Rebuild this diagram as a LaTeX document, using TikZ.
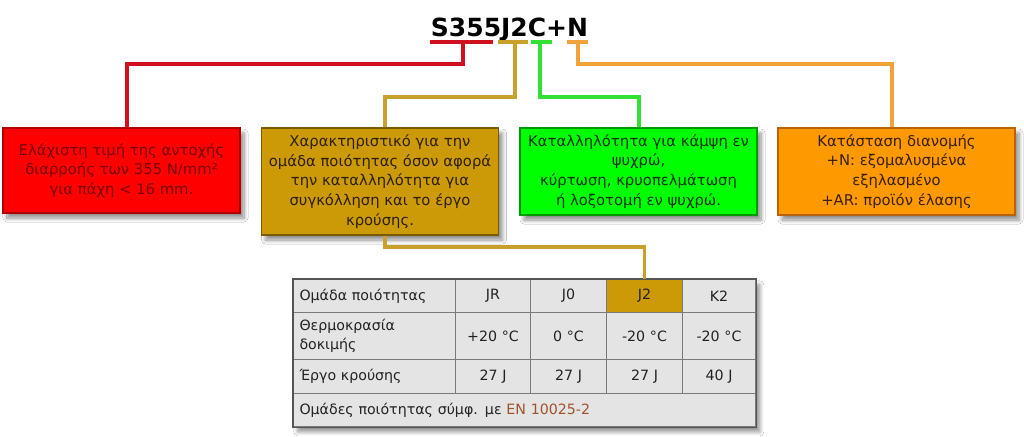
\documentclass[tikz,border=0pt]{standalone}
\usepackage{fontspec}
\setmainfont{DejaVu Sans}
\usetikzlibrary{shadows.blur,calc}
\definecolor{cRed}{HTML}{FF0000}
\definecolor{cRedB}{HTML}{B00000}
\definecolor{cRedT}{HTML}{7A0000}
\definecolor{cRedL}{HTML}{D0101E}
\definecolor{cGold}{HTML}{CC9A06}
\definecolor{cGoldB}{HTML}{7A5A00}
\definecolor{cGoldT}{HTML}{2E2000}
\definecolor{cGoldL}{HTML}{C9A02A}
\definecolor{cGreen}{HTML}{00FF00}
\definecolor{cGreenB}{HTML}{009900}
\definecolor{cGreenT}{HTML}{003300}
\definecolor{cGreenL}{HTML}{33E033}
\definecolor{cOrange}{HTML}{FF9900}
\definecolor{cOrangeB}{HTML}{B86400}
\definecolor{cOrangeT}{HTML}{3A2000}
\definecolor{cOrangeL}{HTML}{F2A23A}
\definecolor{cCell}{HTML}{E4E4E4}
\definecolor{cGrid}{HTML}{7A7A7A}
\definecolor{cTxt}{HTML}{222222}
\definecolor{cBrown}{HTML}{A0522D}
\tikzset{
  infobox/.style={rectangle, draw, line width=1.3pt, inner sep=0pt, align=center,
    minimum width=237pt, font=\fontsize{14.8}{19.8}\selectfont,
    blur shadow={shadow xshift=4pt, shadow yshift=-5pt, shadow blur steps=8,
      shadow blur radius=4pt, shadow opacity=45}},
  link/.style={line width=3.2pt},
  cellL/.style={rectangle, draw=cGrid, line width=1pt, fill=cCell, inner ysep=0pt,
    inner xsep=6pt, text=cTxt, align=left, anchor=north west,
    font=\fontsize{14.2}{19}\selectfont},
  cellC/.style={cellL, align=center},
  tframe/.style={rectangle, draw=cGrid!70!black, line width=1.5pt, fill=cCell, inner sep=0pt,
    anchor=north west,
    blur shadow={shadow xshift=4pt, shadow yshift=-5pt, shadow blur steps=8,
      shadow blur radius=4pt, shadow opacity=45}}
}
\begin{document}
\begin{tikzpicture}[x=1pt,y=-1pt]
\useasboundingbox[fill=white] (0,0) rectangle (1024,436);

% title
\node[font=\fontsize{25}{26}\selectfont\bfseries, inner sep=0pt, anchor=base] (title) at (509.5,36.5) {S355J2C+N};

% boxes
\node[infobox, fill=cRed, draw=cRedB, text=cRedT, minimum height=85pt] (redbox) at (121.5,170.5)
  {Ελάχιστη τιμή της αντοχής\\διαρροής των 355 N/mm²\\για πάχη < 16 mm.};
\node[infobox, fill=cGold, draw=cGoldB, text=cGoldT, minimum height=107pt] (goldbox) at (380,181.5)
  {Χαρακτηριστικό για την\\ομάδα ποιότητας όσον αφορά\\την καταλληλότητα για\\συγκόλληση και το έργο\\κρούσης.};
\node[infobox, fill=cGreen, draw=cGreenB, text=cGreenT, minimum height=87pt] (greenbox) at (638.5,171.5)
  {Καταλληλότητα για κάμψη εν\\ψυχρώ,\\κύρτωση, κρυοπελμάτωση\\ή λοξοτομή εν ψυχρώ.};
\node[infobox, fill=cOrange, draw=cOrangeB, text=cOrangeT, minimum height=87pt] (orangebox) at (896.5,171.5)
  {Κατάσταση διανομής\\+N: εξομαλυσμένα\\εξηλασμένο\\+AR: προϊόν έλασης};

% table
\node[tframe, minimum width=462pt, minimum height=147pt] (tbl) at (293,279) {};
\node[cellL, text width=150pt, minimum height=33pt] (t11) at (293,279) {Ομάδα ποιότητας};
\node[cellC, text width=63pt, minimum height=33pt] (t12) at (455,279) {JR};
\node[cellC, text width=64pt, minimum height=33pt] (t13) at (530,279) {J0};
\node[cellC, text width=64pt, minimum height=33pt, fill=cGold] (t14) at (606,279) {J2};
\node[cellC, text width=61pt, minimum height=33pt] (t15) at (682,279) {K2};
\node[cellL, text width=150pt, minimum height=47pt] (t21) at (293,312) {Θερμοκρασία\\δοκιμής};
\node[cellC, text width=63pt, minimum height=47pt] (t22) at (455,312) {+20 °C};
\node[cellC, text width=64pt, minimum height=47pt] (t23) at (530,312) {0 °C};
\node[cellC, text width=64pt, minimum height=47pt] (t24) at (606,312) {-20 °C};
\node[cellC, text width=61pt, minimum height=47pt] (t25) at (682,312) {-20 °C};
\node[cellL, text width=150pt, minimum height=34pt] (t31) at (293,359) {Έργο κρούσης};
\node[cellC, text width=63pt, minimum height=34pt] (t32) at (455,359) {27 J};
\node[cellC, text width=64pt, minimum height=34pt] (t33) at (530,359) {27 J};
\node[cellC, text width=64pt, minimum height=34pt] (t34) at (606,359) {27 J};
\node[cellC, text width=61pt, minimum height=34pt] (t35) at (682,359) {40 J};
\node[cellL, text width=450pt, minimum height=33pt] (t41) at (293,393) {Ομάδες ποιότητας σύμφ. με \textcolor{cBrown}{EN 10025-2}};
\draw[draw=cGrid!70!black, line width=1.5pt] (tbl.north west) rectangle (tbl.south east);

% underlines and connectors
\coordinate (ru0) at (430,42); \coordinate (ru1) at (493,42); \coordinate (rm) at (463,42); \coordinate (rk) at (127,64);
\coordinate (gu0) at (498,42); \coordinate (gu1) at (528,42); \coordinate (gm) at (515,42); \coordinate (gk) at (385,97);
\coordinate (eu0) at (531,42); \coordinate (eu1) at (552,42); \coordinate (em) at (540,42); \coordinate (ek) at (639,97);
\coordinate (ou0) at (567,42); \coordinate (ou1) at (588,42); \coordinate (om) at (578,42); \coordinate (ok) at (892,64);
\coordinate (bk) at (385,247);

\draw[link, cRedL] (ru0) -- (ru1);
\draw[link, cRedL] (rm) |- (rk) -- (rk |- redbox.north);
\draw[link, cGoldL] (gu0) -- (gu1);
\draw[link, cGoldL] (gm) |- (gk) -- (gk |- goldbox.north);
\draw[link, cGreenL] (eu0) -- (eu1);
\draw[link, cGreenL] (em) |- (ek) -- (ek |- greenbox.north);
\draw[link, cOrangeL] (ou0) -- (ou1);
\draw[link, cOrangeL] (om) |- (ok) -- (ok |- orangebox.north);
\draw[link, cGoldL] (bk |- goldbox.south) -- (bk) -| (t14.north);
\end{tikzpicture}
\end{document}
